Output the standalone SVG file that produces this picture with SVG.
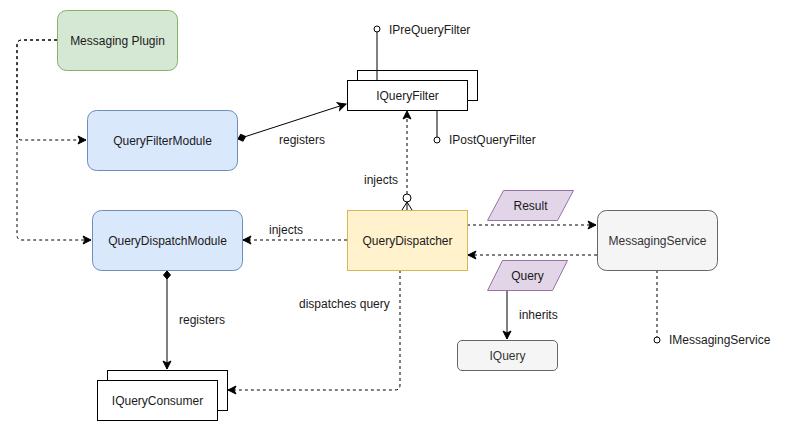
<svg xmlns="http://www.w3.org/2000/svg" width="798" height="431" viewBox="0 0 798 431">
<style>
text{font-family:"Liberation Sans",Arial,sans-serif;font-size:12px;fill:#1a1a1a}
.c{text-anchor:middle;dominant-baseline:central}
.l{dominant-baseline:central}
.e{fill:none;stroke:#000;stroke-width:1}
.d{stroke-dasharray:3 3}
.g{fill:#f5f5f5;stroke:#666666}
.gt{fill:#333333}
.w{fill:#fff;stroke:#000}
.p{fill:#e1d5e7;stroke:#9673a6}
</style>
<defs>
<marker id="arr" markerUnits="userSpaceOnUse" markerWidth="10" markerHeight="10" refX="8" refY="4" orient="auto" overflow="visible">
<path d="M0,0 L8,4 L0,8 L2,4 Z" fill="#000" stroke="#000" stroke-width="1"/>
</marker>
<marker id="dia" markerUnits="userSpaceOnUse" markerWidth="12" markerHeight="10" refX="0" refY="3.5" orient="auto" overflow="visible">
<path d="M0,3.5 L4,0 L8,3.5 L4,7 Z" fill="#000" stroke="#000" stroke-width="1"/>
</marker>
</defs>
<g id="connectors">
<path class="e d" d="M57,40 L22,40 Q17,40 17,45 L17,135 Q17,140 22,140 L86,140" marker-end="url(#arr)"/>
<path class="e d" d="M57,40 L22,40 Q17,40 17,45 L17,235 Q17,240 22,240 L91,240" marker-end="url(#arr)"/>
<path class="e" d="M238,139 L346,104" marker-start="url(#dia)" marker-end="url(#arr)" stroke="#333"/>
<text x="279" y="140" class="l">registers</text>
<path class="e" d="M377,80 L377,32"/>
<circle cx="377" cy="29" r="3" fill="#fff" stroke="#000"/>
<text x="389" y="30" class="l">IPreQueryFilter</text>
<path class="e" d="M437,110 L437,137"/>
<circle cx="437" cy="140" r="3" fill="#fff" stroke="#000"/>
<text x="449" y="140" class="l">IPostQueryFilter</text>
<path class="e d" d="M407,194 L407,111" marker-end="url(#arr)"/>
<circle cx="407" cy="198" r="4" fill="#fff" stroke="#000"/>
<path class="e" d="M402,210 L407,202 L412,210 M407,202 L407,210"/>
<text x="364" y="180" class="l">injects</text>
<path class="e d" d="M347,240 L243,240" marker-end="url(#arr)"/>
<text x="269" y="230" class="l">injects</text>
<path class="e d" d="M467,225 L596,225" marker-end="url(#arr)"/>
<path class="e d" d="M597,255 L468,255" marker-end="url(#arr)"/>
<path class="e" d="M507,290 L507,339" marker-end="url(#arr)"/>
<text x="519" y="315" class="l">inherits</text>
<path class="e d" d="M657,270 L657,337"/>
<circle cx="657" cy="340" r="3" fill="#fff" stroke="#000"/>
<text x="669" y="340" class="l">IMessagingService</text>
<path class="e" d="M167,271 L167,369" marker-start="url(#dia)" marker-end="url(#arr)"/>
<text x="179" y="320" class="l">registers</text>
<path class="e d" d="M400,270 L400,385 Q400,390 395,390 L228,390" marker-end="url(#arr)"/>
<text x="299" y="304" class="l">dispatches query</text>
</g>
<g id="messaging-plugin">
<rect x="57.5" y="10.5" width="120" height="60" rx="9" fill="#d5e8d4" stroke="#82b366"/>
<text x="117.5" y="40.5" class="c">Messaging Plugin</text>
</g>
<g id="query-filter-module">
<rect x="87.5" y="110.5" width="150" height="60" rx="9" fill="#dae8fc" stroke="#6c8ebf"/>
<text x="162.5" y="140.5" class="c">QueryFilterModule</text>
</g>
<g id="query-dispatch-module">
<rect x="92.5" y="210.5" width="150" height="60" rx="9" fill="#dae8fc" stroke="#6c8ebf"/>
<text x="167.5" y="240.5" class="c">QueryDispatchModule</text>
</g>
<g id="iqueryfilter">
<rect x="357.5" y="70.5" width="120" height="30" class="w"/>
<path class="e" d="M377,70 L377,80"/>
<rect x="347.5" y="80.5" width="120" height="30" class="w"/>
<text x="407.5" y="95.5" class="c">IQueryFilter</text>
</g>
<g id="query-dispatcher">
<rect x="347.5" y="210.5" width="120" height="60" fill="#fff2cc" stroke="#d6b656"/>
<text x="407.5" y="240.5" class="c">QueryDispatcher</text>
</g>
<g id="result">
<path d="M503.5,190.5 L573.5,190.5 L557.5,220.5 L487.5,220.5 Z" class="p"/>
<text x="530.5" y="205.5" class="c">Result</text>
</g>
<g id="query">
<path d="M502.5,260.5 L567.5,260.5 L552.5,290.5 L487.5,290.5 Z" class="p"/>
<text x="527.5" y="275.5" class="c">Query</text>
</g>
<g id="messaging-service">
<rect x="597.5" y="210.5" width="120" height="60" rx="9" class="g"/>
<text x="657.5" y="240.5" class="c gt">MessagingService</text>
</g>
<g id="iquery">
<rect x="457.5" y="340.5" width="100" height="30" rx="4.5" class="g"/>
<text x="507.5" y="355.5" class="c gt">IQuery</text>
</g>
<g id="iqueryconsumer">
<rect x="107.5" y="370.5" width="120" height="40" class="w"/>
<rect x="97.5" y="380.5" width="120" height="40" class="w"/>
<text x="157.5" y="400.5" class="c">IQueryConsumer</text>
</g>
</svg>
